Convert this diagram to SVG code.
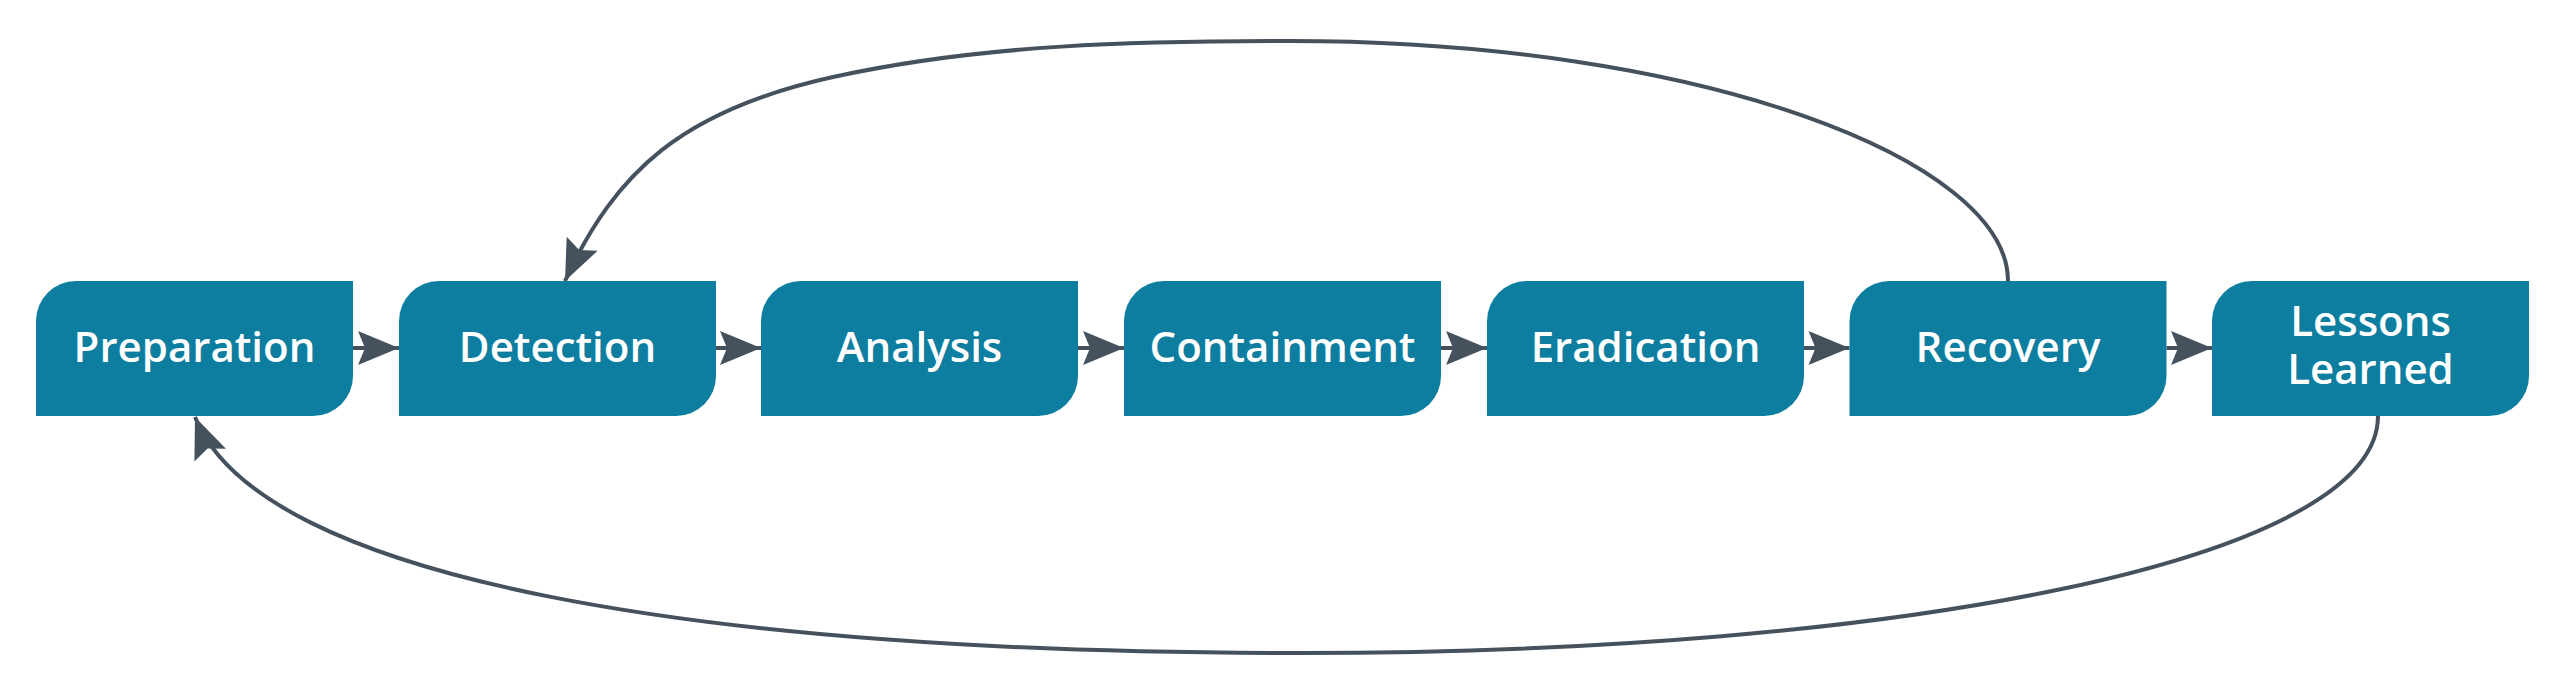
<svg xmlns="http://www.w3.org/2000/svg" width="2560" height="690" viewBox="0 0 2560 690">
  <style>
    .box { fill: #0d7ea0; }
    .lbl { font-family: "Open Sans", "Noto Sans", "Liberation Sans", sans-serif; font-weight: 600; font-size: 42px; fill: #ffffff; text-anchor: middle; }
    .conn { fill: none; stroke: #45525e; stroke-width: 4; }
  </style>
  <defs>
    <path id="box" class="box" d="M40,0 H317 V95 A40,40 0 0 1 277,135 H0 V40 A40,40 0 0 1 40,0 Z"/>
    <marker id="arr" markerUnits="userSpaceOnUse" markerWidth="46" markerHeight="40" viewBox="-44 -20 46 40" refX="0" refY="0" orient="auto">
      <path d="M0,0 L-41,-17 L-34,0 L-41,17 Z" fill="#45525e"/>
    </marker>
  </defs>
  <rect width="2560" height="690" fill="#ffffff"/>
  <g id="connectors">
    <path class="conn" d="M353,348 H399" marker-end="url(#arr)"/>
    <path class="conn" d="M716,348 H761" marker-end="url(#arr)"/>
    <path class="conn" d="M1078,348 H1124" marker-end="url(#arr)"/>
    <path class="conn" d="M1441,348 H1487" marker-end="url(#arr)"/>
    <path class="conn" d="M1804,348 H1849.5" marker-end="url(#arr)"/>
    <path class="conn" d="M2166.5,348 H2212" marker-end="url(#arr)"/>
    <path class="conn" d="M2008,281 C2008,160 1700,41 1290,41 C1140,41 983,44 833,77 C683,110 615.6,171 565,281" marker-end="url(#arr)"/>
    <path class="conn" d="M2378,416 C2378,560 1900,653 1300,653 C700,653 260,580 195,417" marker-end="url(#arr)"/>
  </g>
  <g id="preparation">
    <use href="#box" x="36" y="281"/>
    <text class="lbl" x="194.5" y="362">Preparation</text>
  </g>
  <g id="detection">
    <use href="#box" x="399" y="281"/>
    <text class="lbl" x="557.5" y="362">Detection</text>
  </g>
  <g id="analysis">
    <use href="#box" x="761" y="281"/>
    <text class="lbl" x="919.5" y="362">Analysis</text>
  </g>
  <g id="containment">
    <use href="#box" x="1124" y="281"/>
    <text class="lbl" x="1282.5" y="362">Containment</text>
  </g>
  <g id="eradication">
    <use href="#box" x="1487" y="281"/>
    <text class="lbl" x="1645.5" y="362">Eradication</text>
  </g>
  <g id="recovery">
    <use href="#box" x="1849.5" y="281"/>
    <text class="lbl" x="2008" y="362">Recovery</text>
  </g>
  <g id="lessons-learned">
    <use href="#box" x="2212" y="281"/>
    <text class="lbl" x="2370.5" y="336">Lessons</text>
    <text class="lbl" x="2370.5" y="384">Learned</text>
  </g>
</svg>
